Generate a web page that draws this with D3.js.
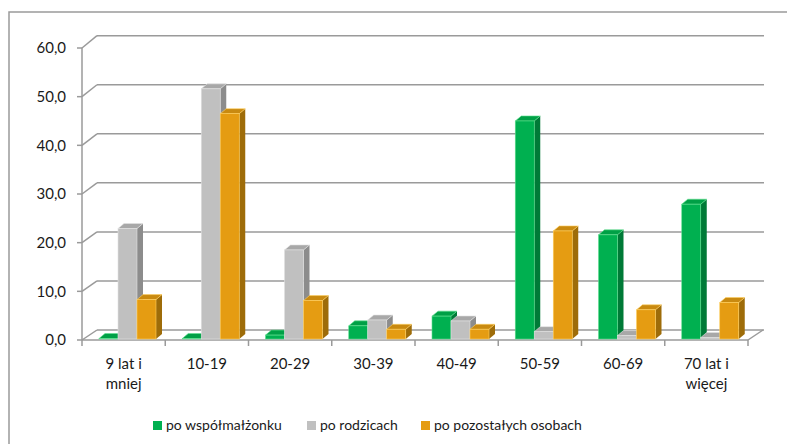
<!DOCTYPE html>
<html>
<head>
<meta charset="utf-8">
<script src="https://cdn.jsdelivr.net/npm/d3@7"></script>
<style>
  body { margin: 0; background: #fff; }
  svg { display: block; font-family: Lato, "Open Sans", sans-serif; }
  .lbl { font-size: 14px; fill: #1a1a1a; }
  .ax { font-size: 15px; fill: #1a1a1a; }
</style>
</head>
<body>
<svg width="787" height="444"></svg>
<script>
// Data
const categories = ["9 lat i\nmniej", "10-19", "20-29", "30-39", "40-49", "50-59", "60-69", "70 lat i\nwięcej"];
const seriesNames = ["po współmałżonku", "po rodzicach", "po pozostałych osobach"];
const spouse = [0.1, 0.1, 0.8, 2.7, 4.7, 44.8, 21.4, 27.7];
const parents = [22.7, 51.4, 18.3, 3.9, 3.7, 1.5, 0.7, 0.3];
const others = [8.1, 46.3, 7.9, 2.0, 2.0, 22.2, 6.0, 7.5];
const yTicks = [0, 10, 20, 30, 40, 50, 60];

const values = [spouse, parents, others];
const colors = [
  { front: "#00b050", top: "#00a046", side: "#007a37", edge: "#5fe08f" },
  { front: "#c0c0c0", top: "#a8a8a8", side: "#8c8c8c", edge: "#e2e2e2" },
  { front: "#e59c12", top: "#c98a10", side: "#9e6c09", edge: "#ffd060" }
];

const svg = d3.select("svg");

// chart frame
svg.append("rect")
  .attr("x", 9).attr("y", 12).attr("width", 800).attr("height", 460)
  .attr("fill", "none").attr("stroke", "#9a9a9a").attr("stroke-width", 1.5);

// 3D geometry (front plane + back wall)
const depth = { dx: 15 };
const yFront = d3.scaleLinear().domain([0, 60]).range([340, 48]);
const yBack = d3.scaleLinear().domain([0, 60]).range([330, 35.7]);
const x = d3.scaleBand().domain(categories).range([82, 748]);
const xs = d3.scaleBand().domain(d3.range(3)).range([17, 74]);
const barDx = 6, barDy = -5;

const grid = svg.append("g").attr("stroke", "#9a9a9a").attr("stroke-width", 1.5).attr("fill", "none");

// back wall grid lines + left wall diagonals
yTicks.forEach(t => {
  grid.append("line")
    .attr("x1", 82 + depth.dx).attr("x2", 748 + depth.dx + 1)
    .attr("y1", yBack(t)).attr("y2", yBack(t));
  grid.append("line")
    .attr("x1", 82).attr("y1", yFront(t))
    .attr("x2", 82 + depth.dx).attr("y2", yBack(t));
  // tick mark
  grid.append("line")
    .attr("x1", 77).attr("x2", 82)
    .attr("y1", yFront(t)).attr("y2", yFront(t));
});

// left axis line
grid.append("line")
  .attr("x1", 82).attr("x2", 82)
  .attr("y1", yFront(60)).attr("y2", yFront(0));

// floor edges
grid.append("line")
  .attr("x1", 82).attr("x2", x.range()[1])
  .attr("y1", yFront(0)).attr("y2", yFront(0));
grid.append("line")
  .attr("x1", x.range()[1]).attr("y1", yFront(0))
  .attr("x2", x.range()[1] + depth.dx).attr("y2", yBack(0));

// category ticks
categories.concat([null]).forEach((c, i) => {
  const xx = c === null ? x.range()[1] : x(c);
  grid.append("line")
    .attr("x1", xx).attr("x2", xx)
    .attr("y1", yFront(0)).attr("y2", yFront(0) + 6);
});

// y labels
const fmt = d => d3.format(".1f")(d).replace(".", ",");
svg.append("g").selectAll("text")
  .data(yTicks)
  .join("text")
  .attr("class", "ax")
  .attr("x", 66)
  .attr("y", d => yFront(d))
  .attr("dy", "0.35em")
  .attr("text-anchor", "end")
  .text(fmt);

// bars
const bars = svg.append("g");
categories.forEach((c, ci) => {
  values.forEach((vals, si) => {
    const col = colors[si];
    const x0 = x(c) + xs(si);
    const w = xs.bandwidth();
    const y0 = yFront(0) - 1;
    const y1 = y0 - (yFront(0) - yFront(vals[ci]));
    const g = bars.append("g");
    // side face
    g.append("polygon")
      .attr("points", [[x0 + w, y1], [x0 + w + barDx, y1 + barDy], [x0 + w + barDx, y0 + barDy], [x0 + w, y0]].join(" "))
      .attr("fill", col.side);
    // top face
    g.append("polygon")
      .attr("points", [[x0, y1], [x0 + barDx, y1 + barDy], [x0 + w + barDx, y1 + barDy], [x0 + w, y1]].join(" "))
      .attr("fill", col.top)
      .attr("stroke", col.edge).attr("stroke-width", 0.6);
    // front face
    g.append("rect")
      .attr("x", x0).attr("y", y1)
      .attr("width", w).attr("height", y0 - y1)
      .attr("fill", col.front)
      .attr("stroke", col.edge).attr("stroke-width", 0.6);
  });
});

// category labels
const xl = svg.append("g");
categories.forEach(c => {
  const lines = c.split("\n");
  const t = xl.append("text")
    .attr("class", "ax")
    .attr("text-anchor", "middle")
    .attr("x", x(c) + x.bandwidth() / 2)
    .attr("y", 369);
  lines.forEach((l, i) => {
    t.append("tspan")
      .attr("x", x(c) + x.bandwidth() / 2)
      .attr("dy", i === 0 ? 0 : 20)
      .text(l);
  });
});

// legend
const legendX = [153, 307, 421];
const legend = svg.append("g");
seriesNames.forEach((name, i) => {
  legend.append("rect")
    .attr("x", legendX[i]).attr("y", 421)
    .attr("width", 9).attr("height", 9)
    .attr("fill", colors[i].front);
  legend.append("text")
    .attr("class", "lbl")
    .attr("x", legendX[i] + 13)
    .attr("y", 430)
    .text(name);
});
</script>
</body>
</html>
